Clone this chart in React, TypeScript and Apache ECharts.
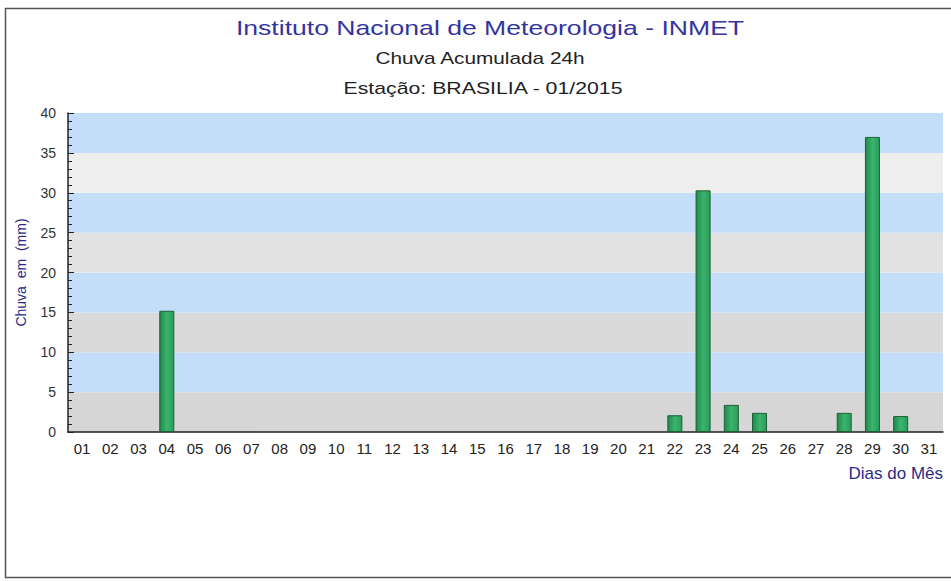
import React, { useEffect, useRef } from "react";
import * as echarts from "echarts";

const days = ["01","02","03","04","05","06","07","08","09","10","11","12","13","14","15","16","17","18","19","20","21","22","23","24","25","26","27","28","29","30","31"];
const rain = [0,0,0,15.2,0,0,0,0,0,0,0,0,0,0,0,0,0,0,0,0,0,2.1,30.3,3.4,2.4,0,0,2.4,37.0,2.0,0];
const bandColors = ["#d6d6d6","#c4defa","#dadada","#c4defa","#e2e2e2","#c4defa","#efeeee","#c4defa"];
const titleText = "Instituto Nacional de Meteorologia - INMET";
const subtitleText = "Chuva Acumulada 24h";
const stationText = "Estação: BRASILIA - 01/2015";

export default function App() {
  const ref = useRef<HTMLDivElement>(null);
  useEffect(() => {
    const chart = echarts.init(ref.current!, null, { renderer: "svg" });
    const font = "Liberation Sans, Arial, sans-serif";
    chart.setOption({
      animation: false,
      backgroundColor: "#ffffff",
      textStyle: { fontFamily: font },
      graphic: [
        { type: "rect", shape: { x: 5.5, y: 8.5, width: 960, height: 569 }, style: { fill: "none", stroke: "#555", lineWidth: 1.5 }, z: 100 },
        { type: "text", x: 490, y: 28, scaleX: 1.33, style: { text: titleText, font: "20px " + font, fill: "#34349e", align: "center", verticalAlign: "middle" } },
        { type: "text", x: 480, y: 58, scaleX: 1.3, style: { text: subtitleText, font: "16px " + font, fill: "#222", align: "center", verticalAlign: "middle" } },
        { type: "text", x: 483, y: 88, scaleX: 1.33, style: { text: stationText, font: "16px " + font, fill: "#222", align: "center", verticalAlign: "middle" } },
      ],
      grid: { left: 68, right: 8, top: 113, bottom: 149 },
      xAxis: {
        type: "category",
        data: days,
        boundaryGap: true,
        name: "Dias do Mês",
        nameLocation: "end",
        nameGap: 0,
        nameTextStyle: { color: "#2b2b85", fontSize: 17, fontFamily: font, align: "right", verticalAlign: "top", padding: [33, 0, 0, 0] },
        axisLine: { lineStyle: { color: "#222", width: 1.5 } },
        axisTick: { inside: true, length: 5, lineStyle: { color: "#222" } },
        axisLabel: { color: "#222", fontSize: 15, margin: 9, interval: 0, fontFamily: font },
        splitLine: { show: false },
      },
      yAxis: {
        type: "value",
        min: 0,
        max: 40,
        interval: 5,
        name: "Chuva  em  (mm)",
        nameLocation: "middle",
        nameGap: 40,
        nameTextStyle: { color: "#2b2b85", fontSize: 14, fontFamily: font },
        axisLine: { show: true, lineStyle: { color: "#222", width: 1.5 } },
        axisTick: { show: true, inside: true, length: 6, lineStyle: { color: "#222" } },
        minorTick: { show: true, splitNumber: 5, length: 4, lineStyle: { color: "#222" } },
        axisLabel: { color: "#333", fontSize: 14, margin: 12, fontFamily: font },
        splitLine: { show: false },
        splitArea: { show: true, areaStyle: { color: bandColors } },
      },
      series: [
        {
          type: "bar",
          data: rain.map((v) => (v === 0 ? null : v)),
          barWidth: 15,
          itemStyle: {
            color: new echarts.graphic.LinearGradient(0, 0, 1, 0, [
              { offset: 0, color: "#1f8a4c" },
              { offset: 0.5, color: "#3bb46c" },
              { offset: 1, color: "#2a9c5a" },
            ]),
            borderColor: "#1d5e38",
            borderWidth: 1,
          },
        },
      ],
    });
    return () => chart.dispose();
  }, []);
  return (
    <div style={{ position: "absolute", left: 0, top: 0, width: 951, height: 581 }}>
      <div ref={ref} style={{ width: 951, height: 581 }} />
    </div>
  );
}
